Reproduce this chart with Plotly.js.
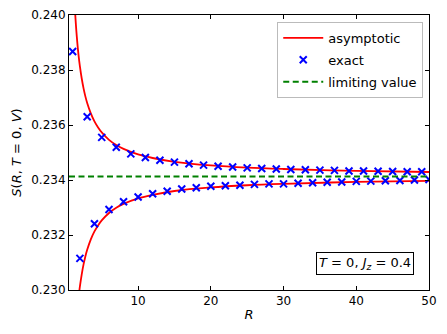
<!DOCTYPE html>
<html>
<head>
<meta charset="utf-8">
<script src="https://cdn.plot.ly/plotly-3.0.1.min.js"></script>
<style>html,body{margin:0;padding:0;background:#fff;}#chart{width:447px;height:334px;}</style>
</head>
<body>
<div id="chart"></div>
<script>
// Exact values: odd R lie on the upper branch, even R on the lower branch
const exactOddR = [1,3,5,7,9,11,13,15,17,19,21,23,25,27,29,31,33,35,37,39,41,43,45,47,49];
const exactOddS = [0.23867,0.23630,0.23555,0.23519,0.23495,0.23482,0.23472,0.23465,0.23459,0.23454,0.23450,0.23447,0.23444,0.23442,0.23440,0.23438,0.23437,0.23436,0.23435,0.23433,0.23433,0.23432,0.23431,0.23430,0.23430];
const exactEvenR = [2,4,6,8,10,12,14,16,18,20,22,24,26,28,30,32,34,36,38,40,42,44,46,48,50];
const exactEvenS = [0.23115,0.23241,0.23293,0.23321,0.23338,0.23350,0.23359,0.23367,0.23372,0.23377,0.23379,0.23381,0.23384,0.23386,0.23386,0.23388,0.23390,0.23392,0.23393,0.23395,0.23396,0.23397,0.23398,0.23400,0.23402];

// Asymptotic curves
const asymUpperR = [1.3,1.4,1.5,1.65,1.8,2,2.25,2.5,2.75,3,3.5,4,4.5,5,6,7,8,10,12,15,20,25,30,40,50];
const asymUpperS = [0.24028,0.23984,0.23946,0.23898,0.23857,0.23813,0.23769,0.23733,0.23704,0.23680,0.23642,0.23613,0.23591,0.23573,0.23546,0.23527,0.23513,0.23493,0.23480,0.23466,0.23453,0.23445,0.23440,0.23433,0.23429];
const asymLowerR = [1.85,2,2.25,2.5,2.75,3,3.5,4,4.5,5,6,7,8,10,12,15,20,25,30,40,50];
const asymLowerS = [0.22981,0.23013,0.23057,0.23093,0.23122,0.23146,0.23184,0.23213,0.23235,0.23253,0.23280,0.23299,0.23313,0.23333,0.23346,0.23360,0.23373,0.23381,0.23386,0.23393,0.23397];

const limitingValue = 0.23413;
const xRange = [0.5, 50];
const yRange = [0.230, 0.240];
const xTicks = [10,20,30,40,50];
const yTicks = [0.230,0.232,0.234,0.236,0.238,0.240];

const FONT = 'DejaVu Sans, sans-serif';

const traces = [
  {
    x: asymUpperR.concat([null], asymLowerR),
    y: asymUpperS.concat([null], asymLowerS),
    mode: 'lines', name: 'asymptotic', legendgroup: 'a',
    line: {color: '#ff0000', width: 1.8, shape: 'spline', smoothing: 1},
    connectgaps: false
  },
  {
    x: exactOddR.concat(exactEvenR),
    y: exactOddS.concat(exactEvenS),
    mode: 'markers', name: 'exact', legendgroup: 'b',
    marker: {symbol: 'x-thin', size: 7, color: '#0000ff', line: {color: '#0000ff', width: 2}}
  },
  {
    x: xRange, y: [limitingValue, limitingValue],
    mode: 'lines', name: 'limiting value', legendgroup: 'c',
    line: {color: '#008000', width: 2, dash: '6px,3.5px'}
  }
];

const axisCommon = {
  showline: true, linecolor: '#000', linewidth: 1, mirror: 'ticks',
  ticks: 'inside', ticklen: 4, tickwidth: 1, tickcolor: '#000',
  showgrid: false, zeroline: false,
  tickfont: {family: FONT, size: 12, color: '#000'}
};

const layout = {
  width: 447, height: 334,
  margin: {l: 69, r: 18, t: 15, b: 44},
  paper_bgcolor: '#fff', plot_bgcolor: '#fff',
  font: {family: FONT, size: 12, color: '#000'},
  xaxis: Object.assign({}, axisCommon, {
    range: xRange, tickvals: xTicks,
    title: {text: '<i>R</i>', font: {family: FONT, size: 13}, standoff: 2}
  }),
  yaxis: Object.assign({}, axisCommon, {
    range: yRange, tickvals: yTicks, tickformat: '.3f',
    title: {text: '<i>S</i>(<i>R</i>, <i>T</i> = 0, <i>V</i>)', font: {family: FONT, size: 13}, standoff: 6}
  }),
  legend: {
    x: 0.984, y: 0.975, xanchor: 'right', yanchor: 'top',
    bgcolor: '#fff', bordercolor: '#bbbbbb', borderwidth: 1,
    font: {family: FONT, size: 13, color: '#000'},
    itemwidth: 40, traceorder: 'grouped', tracegroupgap: 2
  },
  annotations: [{
    xref: 'paper', yref: 'paper', x: 0.823, y: 0.098,
    xanchor: 'center', yanchor: 'middle', showarrow: false,
    text: '<i>T</i> = 0, <i>J<sub>z</sub></i> = 0.4',
    font: {family: FONT, size: 13, color: '#000'},
    bordercolor: '#000', borderwidth: 1, borderpad: 2, bgcolor: '#fff'
  }],
  showlegend: true
};

Plotly.newPlot('chart', traces, layout, {staticPlot: true, displayModeBar: false});
</script>
</body>
</html>
